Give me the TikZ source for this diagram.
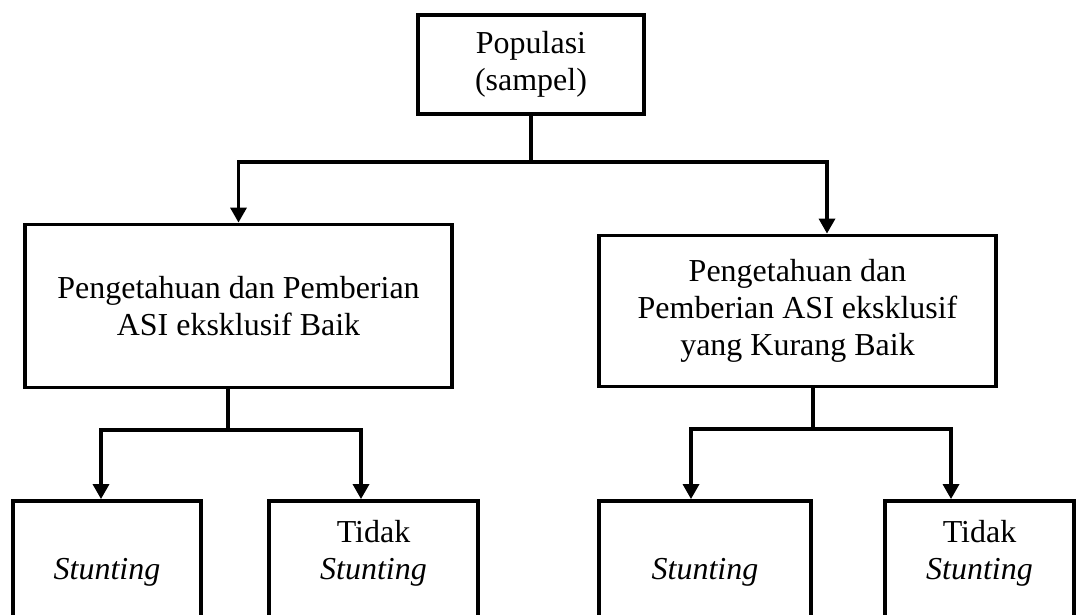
\documentclass[tikz,border=0pt]{standalone}
\usepackage{fontspec}
\setmainfont{Liberation Serif}
\usepackage{tikz}
\usetikzlibrary{arrows.meta, positioning, calc}
\tikzset{
  block/.style={rectangle, draw=black, fill=white, align=center,
    inner sep=0pt, line width=2.2pt,
    font=\fontsize{18.2}{20.9}\selectfont},
  leaf/.style={block, minimum height=2.84cm},
  arrow/.style={-{Triangle[width=0.32cm, length=0.3cm]}, line width=1.9pt},
  line/.style={line width=1.9pt}
}

\begin{document}
\begin{tikzpicture}[x=0.02cm, y=-0.02cm]
  % Frame
  \useasboundingbox (0,0) rectangle (1078,615);
  \clip (0,0) rectangle (1078,615);

  % Boxes
  \node[block, minimum width=4.52cm, minimum height=1.98cm] (pop) at (531,64.5) {Populasi\\(sampel)};
  \node[block, minimum width=8.54cm, minimum height=3.26cm] (baik) at (238.5,306) {Pengetahuan dan Pemberian\\ASI eksklusif Baik};
  \node[block, minimum width=7.94cm, minimum height=3.02cm] (kurang) at (797.5,311) {Pengetahuan dan\\Pemberian ASI eksklusif\\yang Kurang Baik};

  \node[leaf, minimum width=3.76cm] (s1) at (107,572) {\textit{Stunting}};
  \node[leaf, minimum width=4.18cm] (s2) at (373.5,572) {\textit{Stunting}};
  \node[leaf, minimum width=4.24cm] (s3) at (705,572) {\textit{Stunting}};
  \node[leaf, minimum width=3.78cm] (s4) at (979.5,572) {\textit{Stunting}};
  \node[anchor=base, font=\fontsize{18.2}{20.9}\selectfont] (t2) at ([yshift=0.74cm]s2.base) {Tidak};
  \node[anchor=base, font=\fontsize{18.2}{20.9}\selectfont] (t4) at ([yshift=0.74cm]s4.base) {Tidak};

  % Junctions
  \coordinate (jt) at (531,162);
  \coordinate (jl) at (228,430);
  \coordinate (jr) at (813,429);

  % Connectors
  \draw[line] (pop.south) -- (jt);
  \draw[arrow] (jt) -| (baik.north);
  \draw[arrow] (jt) -| ([xshift=0.59cm]kurang.north);

  \draw[line] (baik.south -| jl) -- (jl);
  \draw[arrow] (jl) -| ([xshift=-0.12cm]s1.north);
  \draw[arrow] (jl) -| ([xshift=-0.25cm]s2.north);

  \draw[line] (kurang.south -| jr) -- (jr);
  \draw[arrow] (jr) -| ([xshift=-0.28cm]s3.north);
  \draw[arrow] (jr) -| ([xshift=-0.57cm]s4.north);
\end{tikzpicture}
\end{document}
